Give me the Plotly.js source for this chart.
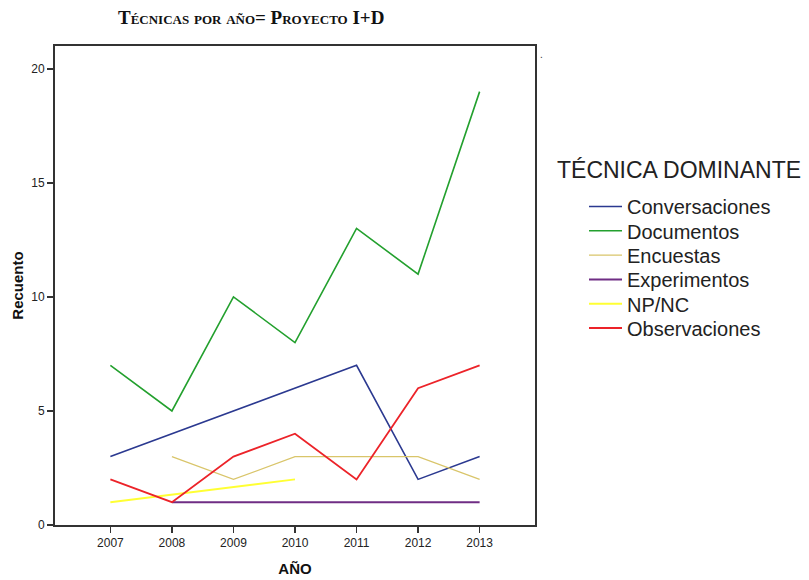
<!DOCTYPE html>
<html>
<head>
<meta charset="utf-8">
<script src="https://cdn.plot.ly/plotly-3.0.1.min.js"></script>
<style>html,body{margin:0;padding:0;background:#fff;}#chart{width:809px;height:580px;}</style>
</head>
<body>
<div id="chart"></div>
<script>
const years = [2007, 2008, 2009, 2010, 2011, 2012, 2013];
const seriesNames = ["Conversaciones", "Documentos", "Encuestas", "Experimentos", "NP/NC", "Observaciones"];
const conversaciones = [3, null, null, null, 7, 2, 3];
const documentos = [7, 5, 10, 8, 13, 11, 19];
const encuestas = [null, 3, 2, 3, 3, 3, 2];
const experimentos = [null, 1, 1, 1, 1, 1, 1];
const npnc = [1, null, null, 2, null, null, null];
const observaciones = [2, 1, 3, 4, 2, 6, 7];
const yTicks = [0, 5, 10, 15, 20];

const values = [conversaciones, documentos, encuestas, experimentos, npnc, observaciones];
const colors = ["#2b3990", "#23a02e", "#d9c56a", "#6f2d84", "#ffff33", "#ec2329"];
const widths = [1.6, 1.6, 1.2, 2, 2, 1.8];

const legendId = i => i === 0 ? 'legend' : 'legend' + (i + 1);

const traces = seriesNames.map((n, i) => ({
  x: years, y: values[i], name: n, type: 'scatter', mode: 'lines',
  connectgaps: true, legend: legendId(i),
  line: {color: colors[i], width: widths[i]}
}));

const sans = 'Liberation Sans, Arial, sans-serif';
const tickFont = {family: sans, size: 12, color: '#222'};
const layout = {
  width: 809, height: 580,
  margin: {l: 55, r: 274, t: 46, b: 55},
  paper_bgcolor: '#fff', plot_bgcolor: '#fff',
  showlegend: true,
  title: {
    text: '<b>Técnicas por año= Proyecto I+D</b>',
    font: {family: 'Liberation Serif, Times New Roman, serif', size: 19, color: '#111', variant: 'small-caps'},
    xref: 'container', yref: 'container', x: 118/809, xanchor: 'left', y: 1 - 17/580, yanchor: 'middle'
  },
  xaxis: {
    range: [2006.1, 2013.9], tickvals: years, ticktext: years.map(String),
    showgrid: false, zeroline: false,
    showline: true, linecolor: '#333', linewidth: 2, mirror: true,
    ticks: 'outside', ticklen: 6, tickwidth: 1.5, tickcolor: '#333',
    tickfont: tickFont,
    title: {text: '<b>AÑO</b>', font: {family: sans, size: 15, color: '#111'}, standoff: 14}
  },
  yaxis: {
    range: [0, 21], tickvals: yTicks, ticktext: yTicks.map(String),
    showgrid: false, zeroline: false,
    showline: true, linecolor: '#333', linewidth: 2, mirror: true,
    ticks: 'outside', ticklen: 6, tickwidth: 1.5, tickcolor: '#333',
    tickfont: tickFont,
    title: {text: '<b>Recuento</b>', font: {family: sans, size: 15, color: '#111'}, standoff: 4}
  },
  annotations: [
    {
      text: 'TÉCNICA DOMINANTE', xref: 'paper', yref: 'paper',
      x: (555 - 55) / 480, y: (525 - 170) / 479, xanchor: 'left', yanchor: 'middle', showarrow: false,
      font: {family: sans, size: 23, color: '#222'}
    },
    {
      text: '.', xref: 'paper', yref: 'paper', x: (541 - 55) / 480, y: (525 - 55) / 479,
      xanchor: 'center', yanchor: 'middle', showarrow: false, font: {family: sans, size: 10, color: '#333'}
    }
  ]
};
seriesNames.forEach((n, i) => {
  layout[legendId(i)] = {
    xref: 'container', yref: 'container',
    x: 584/809, xanchor: 'left', y: 1 - (206.5 + 24.3 * i) / 580, yanchor: 'middle',
    font: {family: sans, size: 20, color: '#222'},
    bgcolor: 'rgba(0,0,0,0)', borderwidth: 0, itemwidth: 33
  };
});
Plotly.newPlot('chart', traces, layout, {displayModeBar: false, staticPlot: true});
</script>
</body>
</html>
